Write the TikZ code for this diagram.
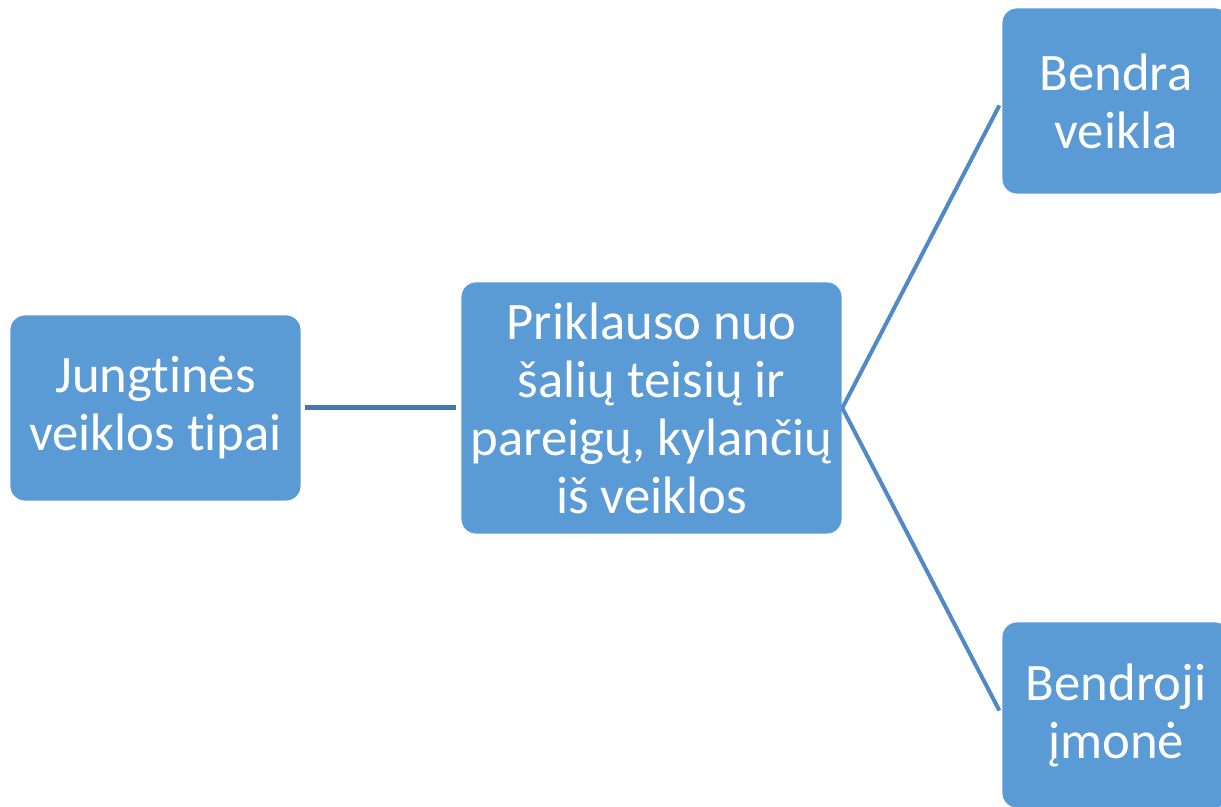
\documentclass[tikz,border=0pt]{standalone}
\usepackage{fontspec}
\setmainfont{Carlito}[Ligatures=NoCommon]
\definecolor{boxblue}{HTML}{5B9BD5}
\definecolor{lineblue}{HTML}{4677AA}
\definecolor{branchblue}{HTML}{5089C6}
\begin{document}
\begin{tikzpicture}[x=0.02cm,y=-0.02cm]

        	\tikzstyle{box} = [fill=boxblue, draw=white, line width=0.4pt, rounded corners=0.3cm, text=white, align=center, inner sep=0pt, font=\fontsize{30}{33}\selectfont];

        	\useasboundingbox (0,0) rectangle (1221,807);

        	\node[box, minimum width=5.82cm, minimum height=3.72cm] (types) at (155.5,408) {Jungtinės\\veiklos tipai};
        	\node[box, minimum width=7.62cm, minimum height=5.04cm] (depends) at (651.5,408) {Priklauso nuo\\šalių teisių ir\\pareigų, kylančių\\iš veiklos};
        	\node[box, minimum width=4.56cm, minimum height=3.72cm] (joint) at (1116,101) {Bendra\\veikla};
        	\node[box, minimum width=4.56cm, minimum height=3.72cm] (venture) at (1116,715) {Bendroji\\įmonė};

        	\draw[lineblue, line width=0.1cm, shorten <=0.08cm, shorten >=0.1cm] (types.east) -- (depends.west);
        	\draw[branchblue, line width=0.08cm, shorten >=0.1cm] (depends.east) -- (joint.west);
        	\draw[branchblue, line width=0.08cm, shorten >=0.1cm] (depends.east) -- (venture.west);

    	\end{tikzpicture}
\end{document}
